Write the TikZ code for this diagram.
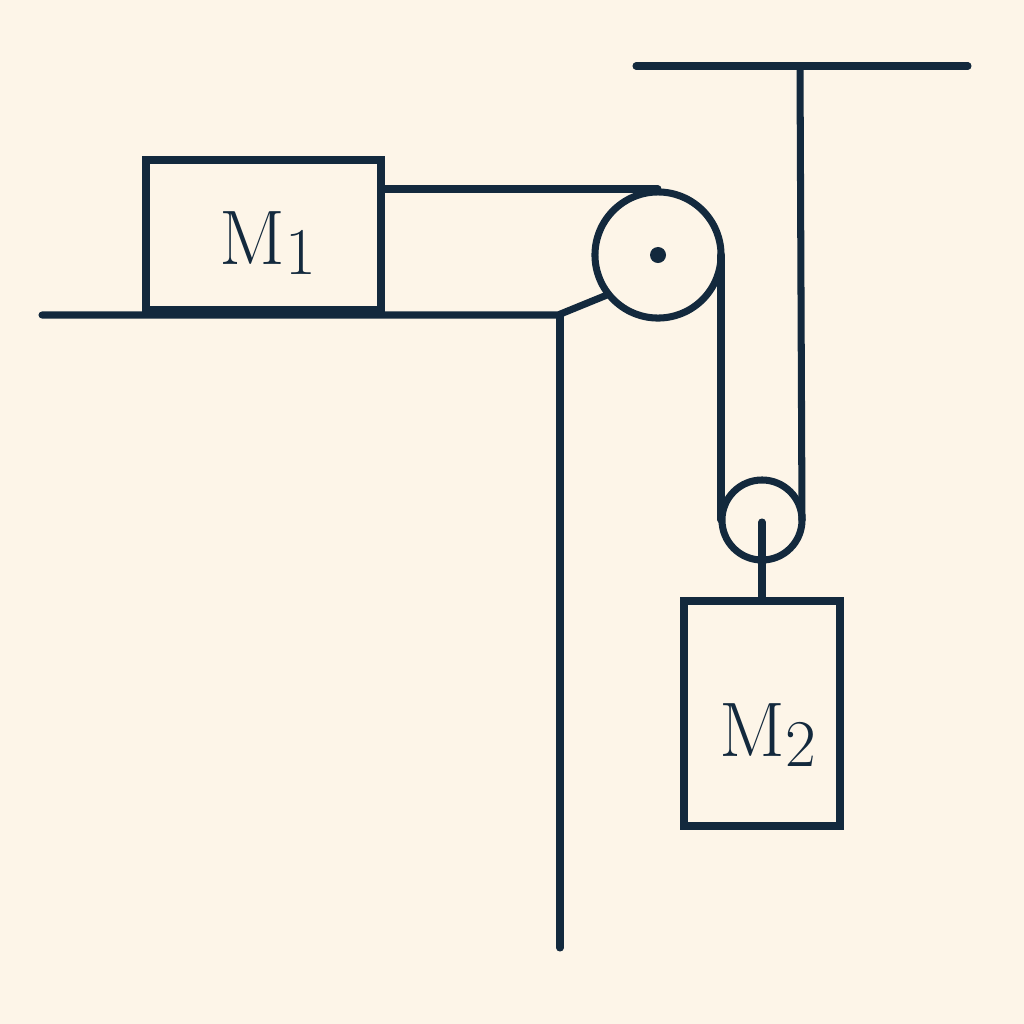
\documentclass[tikz,border=0pt]{standalone}
\definecolor{bg}{HTML}{FDF5E8}
\definecolor{ink}{HTML}{13293D}
\begin{document}
\begin{tikzpicture}[x=0.01cm,y=-0.01cm,line width=2pt,draw=ink,line cap=round,line join=miter,
  lbl/.style={text=ink,font=\fontsize{22}{26}\selectfont}]
\fill[bg] (0,0) rectangle (1024,1024);
\useasboundingbox (0,0) rectangle (1024,1024);
% table
\draw[ink] (42,315) -- (558,315) -- (607,295);
\draw[ink] (560,315) -- (560,948);
% M1
\draw[ink] (146,160) rectangle (381,310);
\node[lbl] (m1) at (268,243) {M\raisebox{-3pt}{\fontsize{19}{22}\selectfont 1}};
% big pulley
\coordinate (P) at (658,255);
\draw[ink] (P) circle (0.63cm);
\fill[ink] (P) circle (0.08cm);
\draw[ink] (381,189) -- (658,189);
\draw[ink] (721,255) -- (721,520);
% small pulley
\coordinate (Q) at (762,520);
\draw[ink] (Q) circle (0.40cm);
\draw[ink] (802,520) -- (800,66);
\draw[ink] (636,66) -- (968,66);
\draw[ink] (762,522) -- (762,600);
% M2
\draw[ink] (684,601) rectangle (840,826);
\node[lbl] (m2) at (768,735) {M\raisebox{-3pt}{\fontsize{19}{22}\selectfont 2}};
\end{tikzpicture}
\end{document}
